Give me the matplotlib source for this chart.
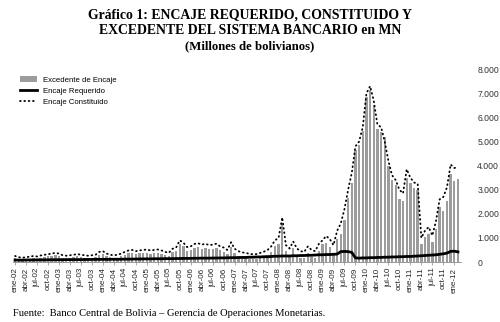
# -*- coding: utf-8 -*-
import numpy as np
import matplotlib
matplotlib.use('Agg')
import matplotlib.pyplot as plt

# Monthly data, ene-02 ... feb-12 (millones de bolivianos)
meses = ['ene', 'feb', 'mar', 'abr', 'may', 'jun', 'jul', 'ago', 'sep', 'oct', 'nov', 'dic']
anios = ['02', '03', '04', '05', '06', '07', '08', '09', '10', '11', '12']

excedente = [
    170, 120, 100, 115, 135, 165, 140, 180, 210, 230, 255, 285,            # 2002
    255, 185, 160, 180, 200, 230, 200, 175, 155, 175, 190, 310,            # 2003
    340, 240, 190, 165, 185, 235, 300, 360, 380, 325, 355, 370,            # 2004
    390, 350, 365, 385, 345, 280, 240, 410, 455, 755, 650, 470,            # 2005
    500, 595, 625, 560, 600, 540, 555, 595, 480, 430, 325, 640,            # 2006
    370, 265, 210, 190, 140, 120, 120, 170, 210, 280, 420, 660,            # 2007
    760, 1600, 450, 310, 590, 300, 180, 150, 370, 220, 160, 450,           # 2008
    750, 770, 640, 380, 970, 1170, 1760, 2670, 3300, 4630, 4840, 5430,     # 2009
    6830, 7120, 6520, 5510, 5410, 5200, 4000, 3390, 3190, 2600, 2550, 3500,  # 2010
    3270, 3060, 3000, 740, 1030, 1170, 810, 1350, 2300, 2100, 2550, 3650,  # 2011
    3350, 3450,                                                            # 2012
]

requerido = [
    80, 80, 80, 85, 85, 85, 90, 90, 90, 90, 95, 95,
    95, 95, 100, 100, 100, 100, 100, 105, 105, 105, 110, 110,
    110, 110, 110, 115, 115, 115, 120, 120, 120, 125, 125, 130,
    130, 130, 135, 135, 135, 140, 140, 140, 145, 145, 150, 150,
    150, 155, 155, 160, 160, 160, 165, 165, 170, 170, 175, 180,
    180, 185, 190, 190, 200, 200, 210, 210, 220, 220, 230, 240,
    240, 250, 250, 250, 260, 260, 270, 270, 280, 280, 290, 300,
    300, 310, 310, 320, 330, 430, 440, 430, 400, 170, 160, 170,
    170, 180, 180, 190, 190, 200, 200, 210, 210, 220, 220, 230,
    230, 240, 250, 260, 270, 280, 290, 300, 320, 340, 370, 440,
    450, 420,
]

constituido = [
    250, 200, 180, 200, 220, 250, 230, 270, 300, 320, 350, 380,
    350, 280, 260, 280, 300, 330, 300, 280, 260, 280, 300, 420,
    450, 350, 300, 280, 300, 350, 420, 480, 500, 450, 480, 500,
    520, 480, 500, 520, 480, 420, 380, 550, 600, 900, 800, 620,
    650, 750, 780, 720, 760, 700, 720, 760, 650, 600, 500, 820,
    550, 450, 400, 380, 340, 320, 330, 380, 430, 500, 650, 900,
    1000, 1850, 700, 560, 850, 560, 450, 420, 650, 500, 450, 750,
    900, 1080, 950, 700, 1300, 1600, 2200, 3000, 3700, 4800, 5000, 5600,
    7000, 7300, 6700, 5700, 5600, 5000, 4200, 3600, 3400, 3000, 2850, 3850,
    3500, 3300, 3250, 1000, 1300, 1450, 1100, 1700, 2600, 2700, 3100, 4050,
    3900, 3950,
]

etiquetas = ['{0}-{1}'.format(m, a) for a in anios for m in meses][:len(excedente)]

x = np.arange(len(excedente))

fig = plt.figure(figsize=(5.0, 3.22), dpi=100)
ax = fig.add_axes([0.025, 0.1863, 0.896, 0.5985])

b = ax.bar(x, excedente, width=0.65, color='#9c9c9c', edgecolor='none',
           label='Excedente de Encaje', zorder=1)
l1, = ax.plot(x, requerido, color='black', linewidth=2.0, label='Encaje Requerido', zorder=3)
l2, = ax.plot(x, constituido, color='black', linewidth=1.3, linestyle=(0, (0.4, 2.0)),
              dash_capstyle='round', label='Encaje Constituido', zorder=2)

ax.set_xlim(-0.7, len(x) - 0.3)
ax.set_ylim(0, 8000)

ax.set_xticks(x[::3])
ax.set_xticklabels(etiquetas[::3], rotation=90, fontsize=5.8,
                   family='Liberation Sans', color='#222222')
ax.tick_params(axis='x', length=2, width=0.5, color='#888888', pad=2)

ax.yaxis.tick_right()
ax.set_yticks(np.arange(0, 8001, 1000))
ax.set_yticklabels(['0'] + ['{0}.000'.format(i) for i in range(1, 9)],
                   fontsize=6.2, family='Liberation Sans', color='#333333')
ax.tick_params(axis='y', length=0, pad=12)

for s in ['top', 'left', 'right']:
    ax.spines[s].set_visible(False)
ax.spines['bottom'].set_color('#888888')
ax.spines['bottom'].set_linewidth(0.6)

leg = ax.legend([b, l1, l2], ['Excedente de Encaje', 'Encaje Requerido', 'Encaje Constituido'],
                loc='upper left', bbox_to_anchor=(0.025, 0.785),
                bbox_transform=fig.transFigure, frameon=False,
                prop={'family': 'Liberation Sans', 'size': 5.6},
                handlelength=2.2, handletextpad=0.8, labelspacing=0.45)

fig.text(0.5, 0.953, u'Gráfico 1: ENCAJE REQUERIDO, CONSTITUIDO Y',
         ha='center', va='center', fontsize=9.9, fontweight='bold', family='Liberation Serif')
fig.text(0.5, 0.904, u'EXCEDENTE DEL SISTEMA BANCARIO en MN',
         ha='center', va='center', fontsize=9.9, fontweight='bold', family='Liberation Serif')
fig.text(0.5, 0.857, u'(Millones de bolivianos)', ha='center', va='center',
         fontsize=9.2, fontweight='bold', family='Liberation Serif')

fig.text(0.026, 0.013, u'Fuente:  Banco Central de Bolivia \u2013 Gerencia de Operaciones Monetarias.',
         ha='left', va='bottom', fontsize=7.6, family='Liberation Serif')

plt.savefig('out.png', dpi=100)
